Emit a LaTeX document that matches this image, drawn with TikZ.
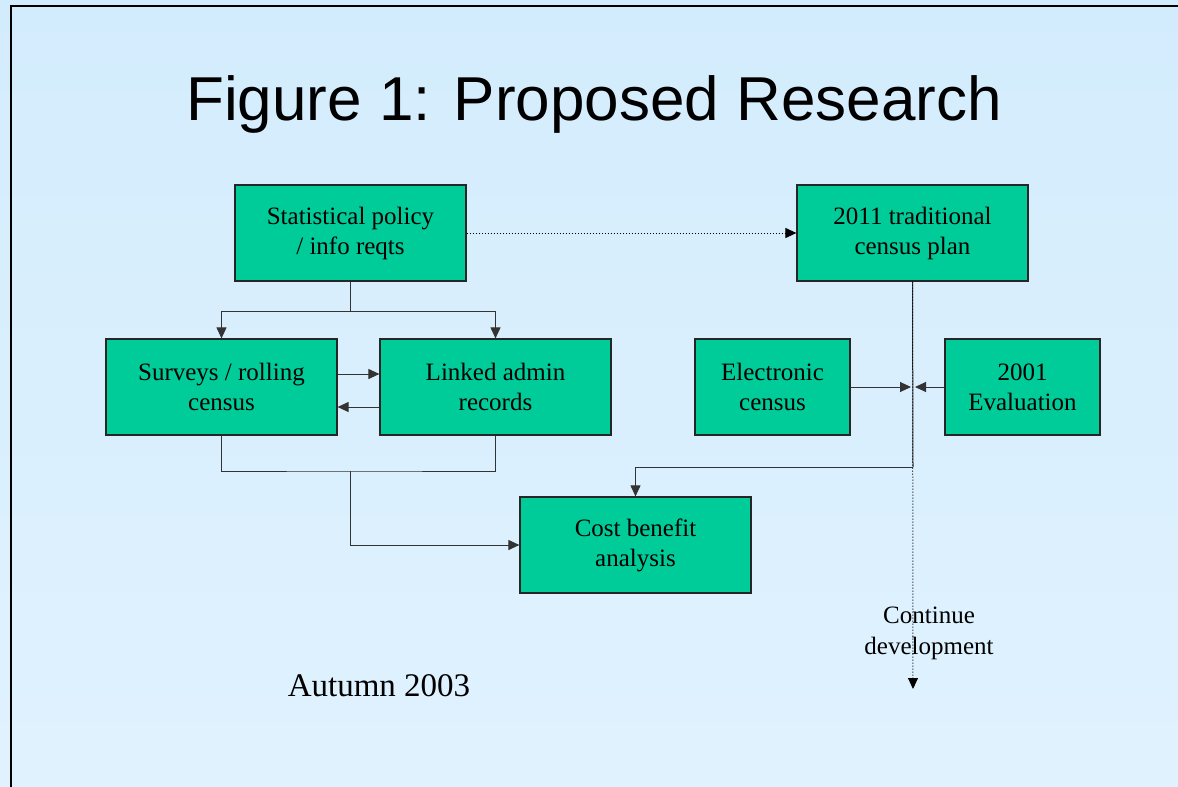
\documentclass[tikz,border=0pt]{standalone}
\usepackage{fontspec}
\setmainfont{Liberation Serif}
\newfontfamily\titlefont{Liberation Sans}
\usetikzlibrary{arrows.meta}
\definecolor{boxgreen}{HTML}{00CC99}
\definecolor{bgtop}{HTML}{D3ECFD}
\definecolor{bgbot}{HTML}{E0F2FE}
\tikzset{
  box/.style={draw=black!85, line width=1.2pt, fill=boxgreen, minimum width=231pt, minimum height=96pt, inner sep=0pt, align=center, font=\fontsize{25}{30}\selectfont},
  smallbox/.style={box, minimum width=155pt},
  conn/.style={draw=black!80, line width=1pt},
  arr/.style={conn, -{Triangle[length=11pt,width=10pt]}},
  dotconn/.style={draw=black, line width=1pt, dotted, -{Triangle[length=11pt,width=10pt]}}
}
\begin{document}
\begin{tikzpicture}[x=1pt,y=-1pt]
\useasboundingbox (0,0) rectangle (1178,787);
\shade[top color=bgtop, bottom color=bgbot] (0,0) rectangle (1178,787);
\draw[line width=2pt, black] (10.5,787) -- (10.5,5.5) -- (1178,5.5);

\node[font=\titlefont\fontsize{62}{70}\selectfont] (title) at (594,104) {Figure 1: Proposed Research};

\node[box] (A) at (350.5,233) {Statistical policy\\/ info reqts};
\node[box] (B) at (912.5,233) {2011 traditional\\census plan};
\node[box] (C) at (221.5,387) {Surveys / rolling\\census};
\node[box] (D) at (495.5,387) {Linked admin\\records};
\node[smallbox] (E) at (772.5,387) {Electronic\\census};
\node[smallbox] (F) at (1022.5,387) {2001\\Evaluation};
\node[box] (G) at (635.5,545) {Cost benefit\\analysis};

\node[font=\fontsize{25}{31}\selectfont, align=center] (cont) at (929,633) {Continue\\development};
\node[font=\fontsize{33}{40}\selectfont] (autumn) at (379,686) {Autumn 2003};

% A -> B dotted
\draw[dotconn] (A.east) -- (B.west);

% A splits to C and D
\coordinate (s1) at (350.5,311);
\draw[conn] (A.south) -- (s1);
\draw[arr] (s1) -| (C.north);
\draw[arr] (s1) -| (D.north);

% C <-> D
\draw[arr] ([yshift=13pt]C.east) -- ([yshift=13pt]D.west);
\draw[arr] ([yshift=-20pt]D.west) -- ([yshift=-20pt]C.east);

% C, D merge to G
\coordinate (m) at (350.5,471);
\draw[conn] (C.south) |- (m) -| (D.south);
\draw[arr] (m) |- (G.west);

% B down to G
\coordinate (k) at (913,467);
\draw[conn] (B.south) -- (k);
\draw[arr] (k) -| (G.north);

% dotted continuation
\coordinate (cd) at (913,689);
\draw[dotconn] (B.south) -- (cd);

% E and F into the line
\coordinate (eIn) at (911,387);
\coordinate (fIn) at (915,387);
\draw[arr] (E.east) -- (eIn);
\draw[arr] (F.west) -- (fIn);
\end{tikzpicture}
\end{document}
